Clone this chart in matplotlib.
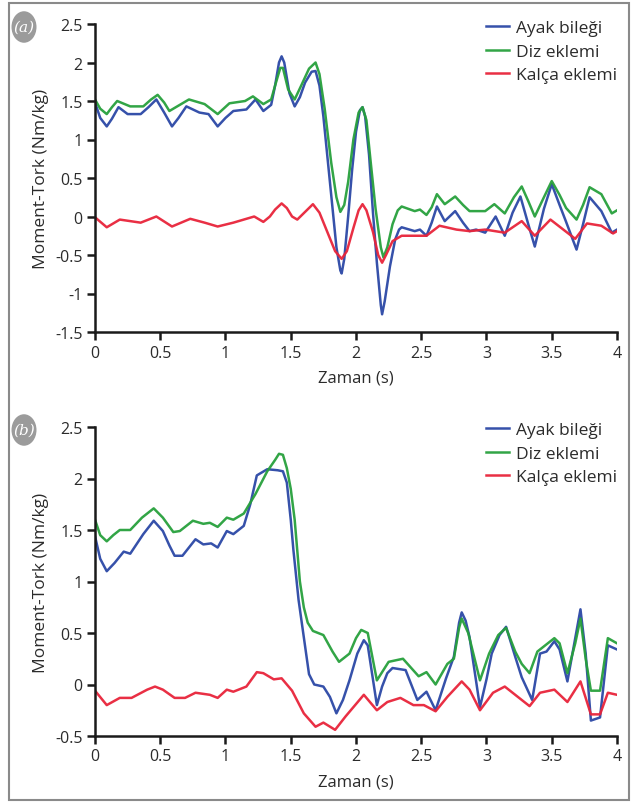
import matplotlib
matplotlib.use("Agg")
import matplotlib.pyplot as plt
from matplotlib.patches import Rectangle, Circle

# ---------------- data (panel a) ----------------
a_ankle_t = [0, 0.04, 0.09, 0.13, 0.18, 0.25, 0.35, 0.41, 0.47, 0.53, 0.59, 0.64, 0.70, 0.80, 0.87, 0.94,
             1.00, 1.06, 1.16, 1.23, 1.29, 1.35, 1.38, 1.41, 1.43, 1.45, 1.49, 1.53, 1.57, 1.61, 1.66,
             1.69, 1.72, 1.75, 1.80, 1.85, 1.88, 1.89, 1.91, 1.94, 1.97, 2.00, 2.03, 2.05, 2.07, 2.10,
             2.13, 2.16, 2.19, 2.20, 2.22, 2.26, 2.30, 2.33, 2.35, 2.45, 2.49, 2.54, 2.58, 2.62, 2.68,
             2.76, 2.82, 2.87, 2.92, 2.99, 3.07, 3.14, 3.20, 3.26, 3.32, 3.37, 3.44, 3.50, 3.56, 3.61,
             3.69, 3.74, 3.79, 3.88, 3.96, 4.0]
a_ankle_v = [1.48, 1.28, 1.17, 1.27, 1.42, 1.33, 1.33, 1.42, 1.52, 1.35, 1.17, 1.28, 1.43, 1.35, 1.33, 1.17,
             1.28, 1.37, 1.39, 1.52, 1.37, 1.45, 1.70, 2.00, 2.08, 2.00, 1.60, 1.43, 1.55, 1.74, 1.88,
             1.89, 1.70, 1.30, 0.45, -0.40, -0.70, -0.74, -0.55, 0.00, 0.60, 1.10, 1.38, 1.42, 1.30, 0.80,
             0.05, -0.60, -1.15, -1.27, -1.10, -0.65, -0.30, -0.17, -0.14, -0.19, -0.17, -0.25, -0.08, 0.13, -0.06,
             0.07, -0.08, -0.19, -0.17, -0.21, 0.00, -0.25, 0.05, 0.26, -0.10, -0.39, 0.10, 0.42, 0.15, -0.07,
             -0.43, -0.10, 0.25, 0.07, -0.21, -0.17]

a_knee_t = [0, 0.04, 0.09, 0.13, 0.17, 0.27, 0.37, 0.43, 0.48, 0.53, 0.57, 0.65, 0.72, 0.84, 0.94, 1.03,
            1.15, 1.21, 1.29, 1.35, 1.38, 1.42, 1.44, 1.48, 1.53, 1.58, 1.64, 1.69, 1.72, 1.76, 1.81,
            1.85, 1.88, 1.91, 1.94, 1.98, 2.02, 2.05, 2.08, 2.11, 2.15, 2.19, 2.21, 2.24, 2.28, 2.32,
            2.35, 2.45, 2.49, 2.54, 2.58, 2.62, 2.68, 2.76, 2.82, 2.87, 2.99, 3.06, 3.14, 3.21, 3.27,
            3.32, 3.37, 3.44, 3.50, 3.56, 3.61, 3.69, 3.74, 3.79, 3.88, 3.96, 4.0]
a_knee_v = [1.52, 1.40, 1.33, 1.42, 1.50, 1.43, 1.43, 1.52, 1.58, 1.48, 1.37, 1.45, 1.52, 1.46, 1.33, 1.47,
            1.50, 1.56, 1.46, 1.52, 1.70, 1.93, 1.93, 1.65, 1.52, 1.70, 1.92, 2.00, 1.85, 1.40, 0.70,
            0.25, 0.06, 0.15, 0.45, 1.00, 1.35, 1.42, 1.25, 0.75, 0.10, -0.40, -0.53, -0.40, -0.10, 0.08,
            0.13, 0.07, 0.09, 0.02, 0.12, 0.29, 0.16, 0.26, 0.15, 0.07, 0.07, 0.16, 0.04, 0.25, 0.39,
            0.20, 0.00, 0.25, 0.46, 0.28, 0.11, -0.04, 0.15, 0.38, 0.29, 0.04, 0.08]

a_hip_t = [0, 0.09, 0.19, 0.35, 0.47, 0.59, 0.73, 0.84, 0.94, 1.06, 1.22, 1.29, 1.34, 1.38, 1.43, 1.47,
           1.51, 1.55, 1.61, 1.67, 1.72, 1.78, 1.84, 1.89, 1.93, 1.98, 2.02, 2.05, 2.08, 2.13, 2.17,
           2.20, 2.23, 2.28, 2.35, 2.54, 2.64, 2.77, 2.87, 2.99, 3.14, 3.27, 3.37, 3.49, 3.68, 3.77,
           3.88, 3.97, 4.0]
a_hip_v = [-0.01, -0.14, -0.04, -0.08, 0.00, -0.13, -0.03, -0.08, -0.13, -0.08, 0.00, -0.07, 0.00, 0.09, 0.17, 0.11,
           0.00, -0.04, 0.06, 0.16, 0.05, -0.20, -0.45, -0.55, -0.45, -0.15, 0.08, 0.16, 0.08, -0.20, -0.50,
           -0.60, -0.50, -0.32, -0.25, -0.25, -0.12, -0.17, -0.19, -0.17, -0.21, -0.06, -0.25, -0.04, -0.29, -0.09,
           -0.12, -0.22, -0.19]

# ---------------- data (panel b) ----------------
b_ankle_t = [0, 0.04, 0.09, 0.15, 0.22, 0.27, 0.37, 0.45, 0.52, 0.57, 0.61, 0.67, 0.77, 0.83, 0.89, 0.94, 1.01,
             1.06, 1.14, 1.19, 1.24, 1.32, 1.40, 1.44, 1.47, 1.50, 1.52, 1.56, 1.61, 1.64, 1.68, 1.75,
             1.80, 1.85, 1.90, 1.95, 2.01, 2.06, 2.09, 2.16, 2.20, 2.24, 2.28, 2.38, 2.47, 2.54, 2.61,
             2.69, 2.75, 2.79, 2.81, 2.84, 2.87, 2.95, 3.00, 3.04, 3.10, 3.15, 3.22, 3.27, 3.35, 3.41,
             3.46, 3.52, 3.56, 3.62, 3.68, 3.72, 3.76, 3.80, 3.87, 3.93, 4.0]
b_ankle_v = [1.44, 1.22, 1.10, 1.18, 1.29, 1.27, 1.46, 1.59, 1.49, 1.35, 1.25, 1.25, 1.41, 1.36, 1.37, 1.33, 1.49,
             1.46, 1.54, 1.75, 2.03, 2.09, 2.08, 2.07, 1.96, 1.60, 1.31, 0.82, 0.37, 0.10, 0.00, -0.02,
             -0.12, -0.28, -0.15, 0.04, 0.30, 0.43, 0.38, -0.20, -0.02, 0.11, 0.16, 0.14, -0.15, -0.07, -0.25,
             0.06, 0.27, 0.60, 0.70, 0.62, 0.46, -0.22, 0.05, 0.30, 0.48, 0.56, 0.27, 0.07, -0.15, 0.30,
             0.32, 0.42, 0.34, 0.03, 0.45, 0.73, 0.30, -0.35, -0.32, 0.38, 0.34]

b_knee_t = [0, 0.04, 0.09, 0.14, 0.19, 0.27, 0.36, 0.45, 0.52, 0.60, 0.65, 0.75, 0.83, 0.88, 0.94, 1.01,
            1.06, 1.14, 1.23, 1.32, 1.38, 1.41, 1.44, 1.47, 1.50, 1.53, 1.57, 1.60, 1.63, 1.67, 1.75,
            1.82, 1.87, 1.95, 2.00, 2.04, 2.09, 2.16, 2.25, 2.36, 2.48, 2.54, 2.61, 2.70, 2.75, 2.79,
            2.81, 2.86, 2.95, 3.02, 3.09, 3.15, 3.22, 3.27, 3.33, 3.39, 3.44, 3.52, 3.56, 3.62, 3.68,
            3.72, 3.76, 3.80, 3.87, 3.93, 4.0]
b_knee_v = [1.60, 1.45, 1.39, 1.45, 1.50, 1.50, 1.62, 1.71, 1.62, 1.48, 1.49, 1.59, 1.56, 1.57, 1.53, 1.62,
            1.60, 1.66, 1.85, 2.07, 2.18, 2.24, 2.23, 2.10, 1.90, 1.60, 1.00, 0.75, 0.60, 0.52, 0.48,
            0.32, 0.22, 0.30, 0.45, 0.53, 0.50, 0.04, 0.22, 0.25, 0.08, 0.12, 0.00, 0.20, 0.25, 0.55,
            0.64, 0.50, 0.04, 0.30, 0.48, 0.55, 0.32, 0.20, 0.11, 0.32, 0.37, 0.45, 0.40, 0.11, 0.40,
            0.64, 0.25, -0.06, -0.06, 0.45, 0.40]

b_hip_t = [0, 0.09, 0.19, 0.28, 0.40, 0.46, 0.52, 0.61, 0.69, 0.77, 0.88, 0.94, 1.01, 1.06, 1.16, 1.24,
           1.29, 1.37, 1.43, 1.51, 1.60, 1.69, 1.75, 1.84, 1.92, 2.06, 2.16, 2.24, 2.34, 2.44, 2.52,
           2.61, 2.70, 2.81, 2.87, 2.95, 3.05, 3.14, 3.22, 3.33, 3.41, 3.52, 3.62, 3.72, 3.80, 3.87,
           3.93, 4.0]
b_hip_v = [-0.06, -0.20, -0.13, -0.13, -0.05, -0.02, -0.05, -0.13, -0.13, -0.08, -0.10, -0.13, -0.05, -0.07, -0.02, 0.12,
           0.11, 0.05, 0.06, -0.06, -0.28, -0.41, -0.37, -0.44, -0.31, -0.10, -0.25, -0.17, -0.13, -0.20, -0.20,
           -0.26, -0.12, 0.03, -0.05, -0.25, -0.08, -0.02, -0.10, -0.21, -0.08, -0.05, -0.17, 0.03, -0.29, -0.29,
           -0.08, -0.10]

labels = ["Ayak bileği", "Diz eklemi", "Kalça eklemi"]
colors = ["#2b48a6", "#27a03c", "#e8243a"]

x_ticks = [0, 0.5, 1, 1.5, 2, 2.5, 3, 3.5, 4]
x_ticklabels = ["0", "0.5", "1", "1.5", "2", "2.5", "3", "3.5", "4"]
a_yticks = [-1.5, -1, -0.5, 0, 0.5, 1, 1.5, 2, 2.5]
b_yticks = [-0.5, 0, 0.5, 1, 1.5, 2, 2.5]

plt.rcParams['font.family'] = ['Open Sans', 'DejaVu Sans']
TXT = "#2b2b2b"

fig = plt.figure(figsize=(6.38, 8.04), dpi=100)
W, H = 638, 804

def fx(px):
    return px / W

def fy(py):
    return 1 - py / H

# border around the figure
fig.patches.append(Rectangle((fx(9), fy(801)), fx(629) - fx(9), fy(4) - fy(801),
                             transform=fig.transFigure, fill=False, edgecolor="#8a8a8a", lw=1.5))

def make_panel(top, bottom, series, yticks, ylim, tag, xlab_y, leg_y):
    ax = fig.add_axes([fx(95), fy(bottom), fx(617) - fx(95), fy(top) - fy(bottom)])
    for (t, v), c, lab in zip(series, colors, labels):
        ax.plot(t, v, color=c, lw=1.8, label=lab, solid_joinstyle="round", alpha=0.95)
    ax.set_xlim(0, 4)
    ax.set_ylim(*ylim)
    ax.set_xticks(x_ticks)
    ax.set_xticklabels(x_ticklabels)
    ax.set_yticks(yticks)
    ax.set_yticklabels([("%g" % y) for y in yticks])
    for s in ["top", "right"]:
        ax.spines[s].set_visible(False)
    for s in ["left", "bottom"]:
        ax.spines[s].set_linewidth(1.8)
        ax.spines[s].set_color("#1a1a1a")
    ax.tick_params(direction="out", length=6, width=1.8, color="#1a1a1a",
                   labelsize=11.5, labelcolor=TXT, pad=3)
    ax.set_facecolor("none")
    ax.set_ylabel("Moment-Tork (Nm/kg)", fontsize=12.5, color=TXT, labelpad=4)
    fig.text(fx(356), fy(xlab_y), "Zaman (s)", fontsize=12, color=TXT, ha="center", va="center")
    leg = ax.legend(loc="upper left", bbox_to_anchor=(fx(486), fy(leg_y)),
                    bbox_transform=fig.transFigure, frameon=False, fontsize=12.5,
                    handlelength=1.35, handletextpad=0.35, labelspacing=0.42,
                    borderaxespad=0, borderpad=0)
    for txt in leg.get_texts():
        txt.set_color(TXT)
    # tag badge
    cx, cy = 24, (28 if tag == "a" else 431)
    fig.patches.append(Circle((fx(cx), fy(cy)), 12.5 / W, transform=fig.transFigure,
                              facecolor="#9b9b9b", edgecolor="none"))
    fig.text(fx(cx), fy(cy), "(%s)" % tag, fontsize=11, color="white", ha="center", va="center",
             family="DejaVu Serif", style="italic")
    return ax

make_panel(25, 333,
           [(a_ankle_t, a_ankle_v), (a_knee_t, a_knee_v), (a_hip_t, a_hip_v)],
           a_yticks, (-1.5, 2.5), "a", 379, 21)
make_panel(428, 737,
           [(b_ankle_t, b_ankle_v), (b_knee_t, b_knee_v), (b_hip_t, b_hip_v)],
           b_yticks, (-0.5, 2.5), "b", 783, 423)

fig.savefig("out.png", dpi=100)
